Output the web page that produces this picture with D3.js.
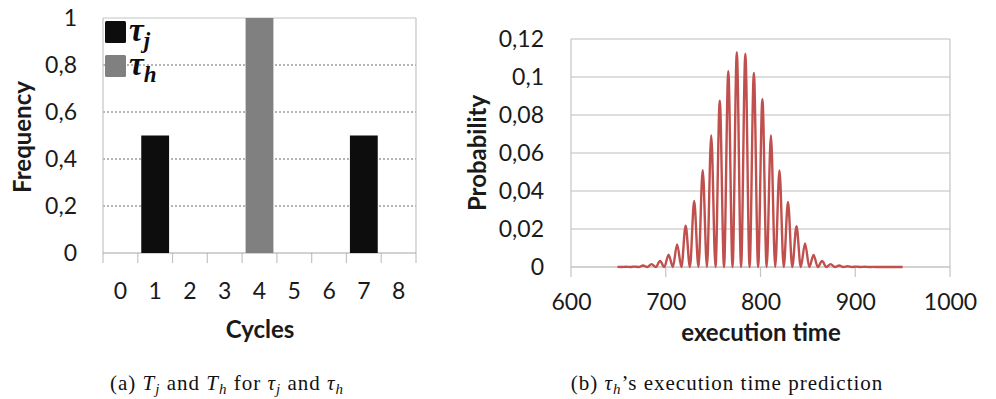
<!DOCTYPE html>
<html>
<head>
<meta charset="utf-8">
<script src="https://cdn.jsdelivr.net/npm/d3@7"></script>
<style>
  body { margin: 0; background: #fff; }
  svg { display: block; }
  .tick text { font-family: Lato, "Open Sans", sans-serif; }
</style>
</head>
<body>
<div id="fig"></div>
<script>
// (a) frequency of cycles
const cycles = ['0', '1', '2', '3', '4', '5', '6', '7', '8'];
const freqTauJ = [0, 0.5, 0, 0, 0, 0, 0, 0.5, 0];
const freqTauH = [0, 0, 0, 0, 1, 0, 0, 0, 0];
const freqTicks = [0, 0.2, 0.4, 0.6, 0.8, 1];

// (b) execution time distribution (peaks and the zero points between them)
const execTime = [
  649, 653.5, 658, 662.5, 667, 671.5, 676, 680.5, 685, 689.5, 694, 698.5,
  703, 707.5, 712, 716.5, 721, 725.5, 730, 734.5, 739, 743.5, 748, 752.5,
  757, 761.5, 766, 770.5, 775, 779.5, 784, 788.5, 793, 797.5, 802, 806.5,
  811, 815.5, 820, 824.5, 829, 833.5, 838, 842.5, 847, 851.5, 856, 860.5,
  865, 869.5, 874, 878.5, 883, 887.5, 892, 896.5, 901, 905.5, 910, 914.5,
  919, 923.5, 928, 932.5, 937, 941.5, 946, 950
];
const probability = [
  0.00005, 0, 0.0001, 0, 0.0002, 0, 0.0008, 0, 0.0015, 0, 0.0032, 0,
  0.0065, 0, 0.0119, 0, 0.0217, 0, 0.0347, 0, 0.0510, 0, 0.0692, 0,
  0.0875, 0, 0.1030, 0, 0.1130, 0, 0.1122, 0, 0.1021, 0, 0.0883, 0,
  0.0692, 0, 0.0508, 0, 0.0342, 0, 0.0215, 0, 0.0124, 0, 0.0063, 0,
  0.0032, 0, 0.0015, 0, 0.0008, 0, 0.0004, 0, 0.0002, 0, 0.0001, 0,
  0.00005, 0, 0.00002, 0, 0.00001, 0, 0.00001, 0
];
const timeTicks = [600, 700, 800, 900, 1000];
const probTicks = [0, 0.02, 0.04, 0.06, 0.08, 0.1, 0.12];

const comma = d => String(+d.toFixed(4)).replace('.', ',');
const sans = 'Lato, "Open Sans", sans-serif';
const serif = '"Liberation Serif", "DejaVu Serif", serif';

const svg = d3.select('#fig').append('svg')
  .attr('width', 996).attr('height', 399);
svg.append('rect').attr('width', 996).attr('height', 399).attr('fill', '#fff');

// ---------- chart (a) ----------
const xa = d3.scaleBand().domain(cycles).range([103, 416]).padding(0);
const ya = d3.scaleLinear().domain([0, 1]).range([253, 18]);
const ga = svg.append('g');

// dashed grid
ga.selectAll('.grid').data(freqTicks.filter(t => t > 0 && t < 1)).enter()
  .append('line')
  .attr('x1', 103).attr('x2', 416)
  .attr('y1', d => ya(d)).attr('y2', d => ya(d))
  .attr('stroke', '#6b6b6b').attr('stroke-width', 1)
  .attr('stroke-dasharray', '2,2');
// top border
ga.append('line').attr('x1', 103).attr('x2', 416)
  .attr('y1', ya(1)).attr('y2', ya(1))
  .attr('stroke', '#c4c4c4').attr('stroke-width', 1.2);

// category separators (tick marks)
const seps = cycles.map(c => xa(c)).concat([xa.range()[1]]);
ga.selectAll('.sep').data(seps).enter().append('line')
  .attr('x1', d => d).attr('x2', d => d)
  .attr('y1', (d, i) => (i === 0 || i === seps.length - 1) ? ya(1) : ya(0))
  .attr('y2', ya(0) + 10)
  .attr('stroke', '#c4c4c4').attr('stroke-width', 1.2);
// base line
ga.append('line').attr('x1', 103).attr('x2', 416)
  .attr('y1', ya(0)).attr('y2', ya(0))
  .attr('stroke', '#a6a6a6').attr('stroke-width', 1.2);

const inset = xa.bandwidth() * 0.1;
const series = [
  { name: 'j', values: freqTauJ, color: '#0d0d0d' },
  { name: 'h', values: freqTauH, color: '#808080' }
];
series.forEach(s => {
  ga.selectAll('.bar-' + s.name)
    .data(cycles.map((c, i) => ({ c, v: s.values[i] })).filter(d => d.v > 0))
    .enter().append('rect')
    .attr('x', d => xa(d.c) + inset)
    .attr('width', xa.bandwidth() - 2 * inset)
    .attr('y', d => ya(d.v))
    .attr('height', d => ya(0) - ya(d.v))
    .attr('fill', s.color);
});

// axes
const axA = ga.append('g').attr('transform', `translate(0,${ya(0)})`)
  .call(d3.axisBottom(xa).tickSize(0).tickPadding(30));
axA.select('.domain').remove();
axA.selectAll('text').attr('font-size', 23).attr('fill', '#1a1a1a');

const ayA = ga.append('g').attr('transform', 'translate(103,0)')
  .call(d3.axisLeft(ya).tickValues(freqTicks).tickFormat(comma).tickSize(0).tickPadding(26));
ayA.select('.domain').remove();
ayA.selectAll('text').attr('font-size', 23).attr('fill', '#1a1a1a');

ga.append('text').attr('x', 260).attr('y', 338)
  .attr('text-anchor', 'middle').attr('font-family', sans)
  .attr('font-weight', 'bold').attr('font-size', 24).attr('fill', '#1a1a1a')
  .text('Cycles');
ga.append('text').attr('transform', 'translate(31,137) rotate(-90)')
  .attr('text-anchor', 'middle').attr('font-family', sans)
  .attr('font-weight', 'bold').attr('font-size', 24).attr('fill', '#1a1a1a')
  .text('Frequency');

// legend
series.forEach((s, i) => {
  const ly = 21 + i * 34;
  ga.append('rect').attr('x', 105).attr('y', ly).attr('width', 21).attr('height', 22)
    .attr('rx', 1.5).attr('fill', s.color);
  const t = ga.append('text').attr('x', 129).attr('y', ly + 20)
    .attr('font-family', serif).attr('font-weight', 'bold').attr('font-style', 'italic')
    .attr('font-size', 33).attr('fill', '#0d0d0d');
  t.append('tspan').text('τ');
  t.append('tspan').attr('dy', 7).attr('font-size', 23).text(s.name);
});

// ---------- chart (b) ----------
const xb = d3.scaleLinear().domain([600, 1000]).range([571, 950]);
const yb = d3.scaleLinear().domain([0, 0.12]).range([267, 39]);
const gb = svg.append('g');

gb.selectAll('.grid').data(probTicks).enter().append('line')
  .attr('x1', 571).attr('x2', 950)
  .attr('y1', d => yb(d)).attr('y2', d => yb(d))
  .attr('stroke', d => d === 0 ? '#a6a6a6' : '#bdbdbd').attr('stroke-width', 1.2);
gb.selectAll('.vt').data(timeTicks).enter().append('line')
  .attr('x1', d => xb(d)).attr('x2', d => xb(d))
  .attr('y1', (d, i) => (i === 0 || i === timeTicks.length - 1) ? yb(0.12) : yb(0))
  .attr('y2', yb(0) + 10)
  .attr('stroke', '#c4c4c4').attr('stroke-width', 1.2);

const line = d3.line()
  .x((d, i) => xb(execTime[i]))
  .y(d => yb(d))
  .curve(d3.curveMonotoneX);
gb.append('path').datum(probability)
  .attr('d', line).attr('fill', 'none')
  .attr('stroke', '#c0504d').attr('stroke-width', 2.4)
  .attr('stroke-linejoin', 'round');

const axB = gb.append('g').attr('transform', `translate(0,${yb(0)})`)
  .call(d3.axisBottom(xb).tickValues(timeTicks).tickFormat(d3.format('d')).tickSize(0).tickPadding(27));
axB.select('.domain').remove();
axB.selectAll('text').attr('font-size', 23).attr('fill', '#1a1a1a');

const ayB = gb.append('g').attr('transform', 'translate(571,0)')
  .call(d3.axisLeft(yb).tickValues(probTicks).tickFormat(comma).tickSize(0).tickPadding(27));
ayB.select('.domain').remove();
ayB.selectAll('text').attr('font-size', 23).attr('fill', '#1a1a1a');

gb.append('text').attr('x', 761).attr('y', 341)
  .attr('text-anchor', 'middle').attr('font-family', sans)
  .attr('font-weight', 'bold').attr('font-size', 24).attr('fill', '#1a1a1a')
  .text('execution time');
gb.append('text').attr('transform', 'translate(486,153) rotate(-90)')
  .attr('text-anchor', 'middle').attr('font-family', sans)
  .attr('font-weight', 'bold').attr('font-size', 24).attr('fill', '#1a1a1a')
  .text('Probability');

// ---------- captions ----------
function caption(x, parts) {
  const t = svg.append('text').attr('x', x).attr('y', 390)
    .attr('text-anchor', 'middle').attr('font-family', serif)
    .attr('font-size', 21).attr('letter-spacing', 1).attr('fill', '#111');
  parts.forEach(p => {
    const sp = t.append('tspan').text(p.t);
    if (p.i) sp.attr('font-style', 'italic');
    if (p.sub) sp.attr('font-size', 15).attr('dy', 4);
    if (p.up) sp.attr('dy', -4);
  });
}
caption(227, [
  { t: '(a) ' }, { t: 'T', i: 1 }, { t: 'j', i: 1, sub: 1 }, { t: ' and ', up: 1 },
  { t: 'T', i: 1 }, { t: 'h', i: 1, sub: 1 }, { t: ' for ', up: 1 },
  { t: 'τ', i: 1 }, { t: 'j', i: 1, sub: 1 }, { t: ' and ', up: 1 },
  { t: 'τ', i: 1 }, { t: 'h', i: 1, sub: 1 }
]);
caption(727, [
  { t: '(b) ' }, { t: 'τ', i: 1 }, { t: 'h', i: 1, sub: 1 },
  { t: '’s execution time prediction', up: 1 }
]);
</script>
</body>
</html>
